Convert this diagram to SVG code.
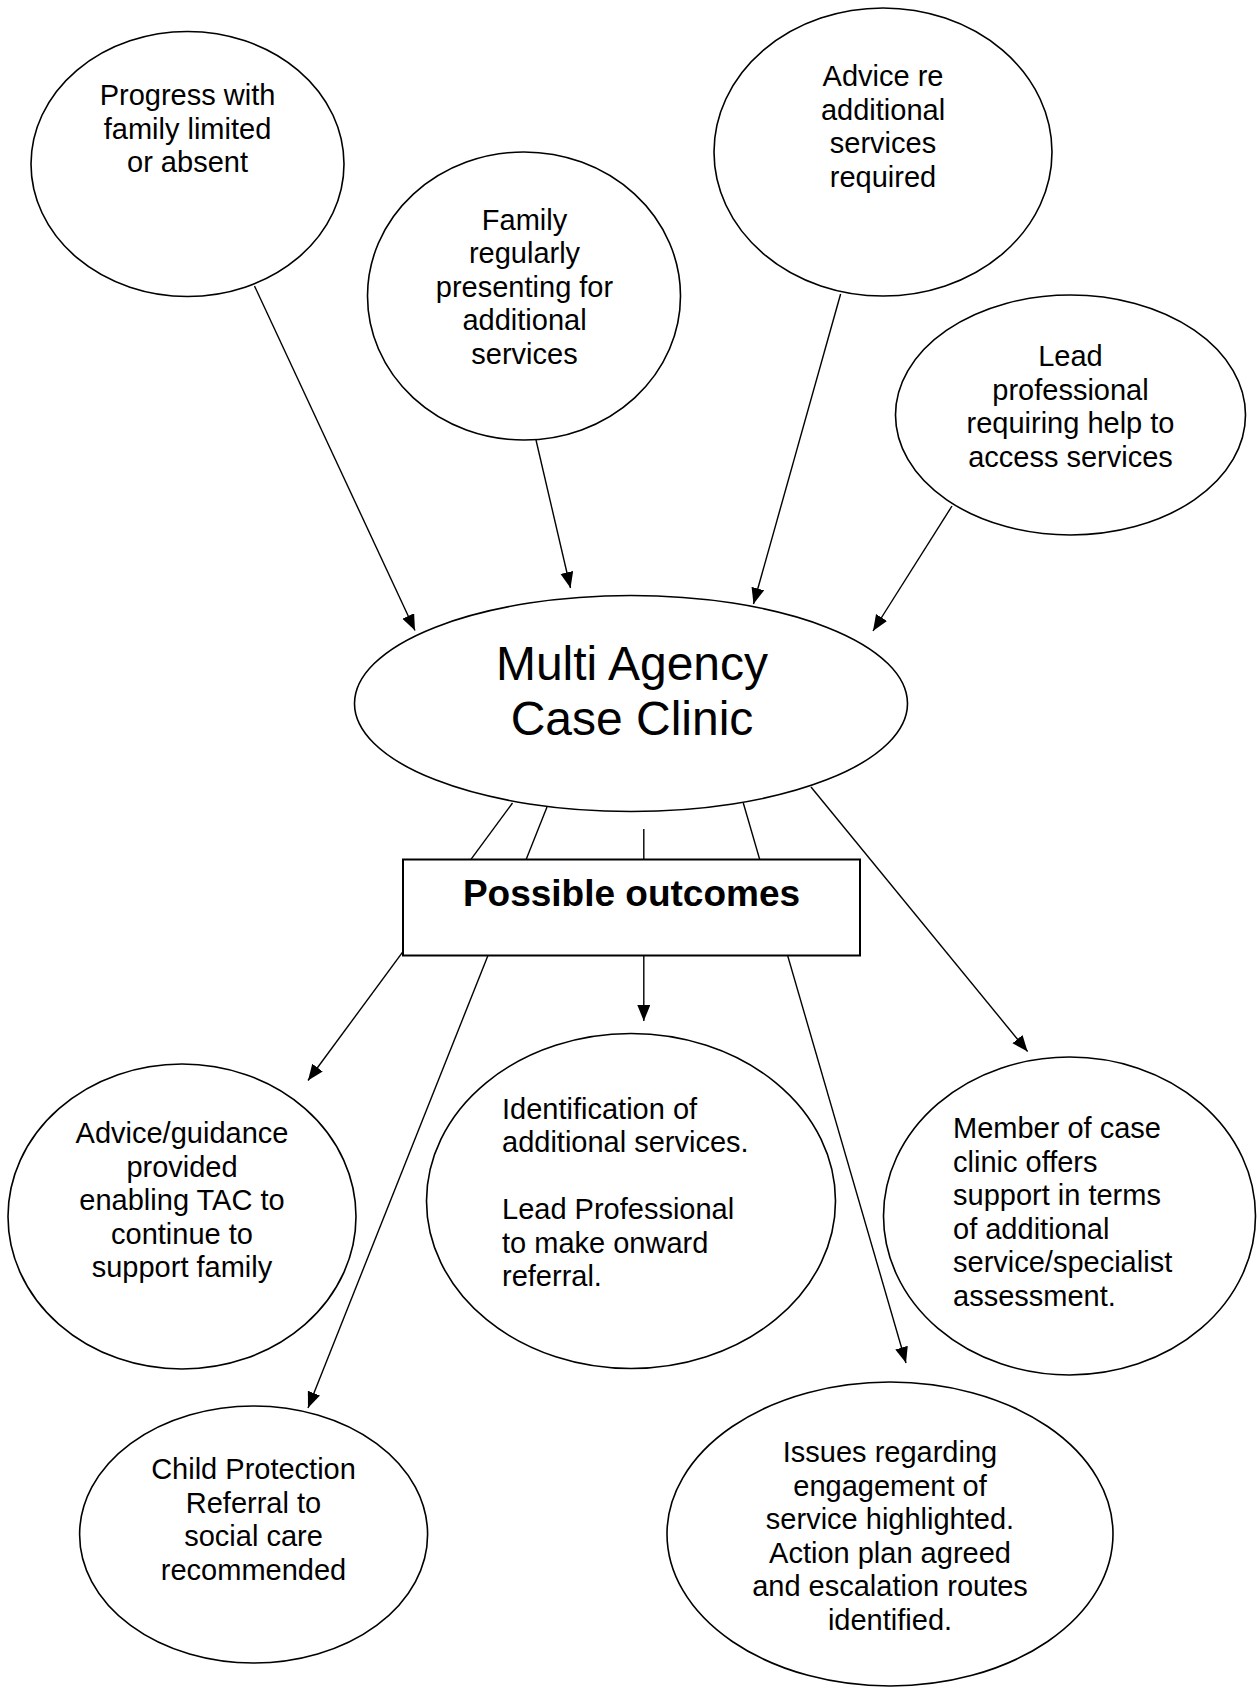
<svg xmlns="http://www.w3.org/2000/svg" width="1258" height="1689" viewBox="0 0 1258 1689">
  <style>
    .node { fill: #ffffff; stroke: #000000; stroke-width: 1.6; }
    .box { fill: #ffffff; stroke: #000000; stroke-width: 2; }
    .lbl { font-family: "Liberation Sans", Arial, sans-serif; font-size: 29px; fill: #000000; }
    .mid { text-anchor: middle; }
    .big { font-family: "Liberation Sans", Arial, sans-serif; font-size: 48px; fill: #000000; text-anchor: middle; }
    .head { font-family: "Liberation Sans", Arial, sans-serif; font-size: 37px; font-weight: bold; fill: #000000; text-anchor: middle; }
    .edge { stroke: #000000; stroke-width: 1.4; fill: none; }
    .arrow { marker-end: url(#tip); }
  </style>
  <defs>
    <marker id="tip" markerUnits="userSpaceOnUse" markerWidth="18" markerHeight="14" refX="16" refY="6.5" orient="auto">
      <path d="M0,0 L16,6.5 L0,13 z" fill="#000000"/>
    </marker>
  </defs>
  <rect width="1258" height="1689" fill="#ffffff"/>

  <!-- connectors (drawn first so the outcomes box sits on top) -->
  <g id="connectors">
    <line class="edge arrow" x1="254.5" y1="286" x2="415" y2="630.5"/>
    <line class="edge arrow" x1="536" y1="440" x2="570.5" y2="588"/>
    <line class="edge arrow" x1="840.6" y1="294" x2="753.5" y2="604"/>
    <line class="edge arrow" x1="952" y1="506" x2="873" y2="631"/>

    <line class="edge arrow" x1="512.5" y1="803" x2="308" y2="1080.5"/>
    <line class="edge arrow" x1="547" y1="807" x2="308" y2="1408"/>
    <line class="edge" x1="643.8" y1="829" x2="643.8" y2="859.5"/>
    <line class="edge arrow" x1="643.8" y1="955" x2="643.8" y2="1021"/>
    <line class="edge arrow" x1="743.3" y1="803" x2="906" y2="1363"/>
    <line class="edge arrow" x1="811" y1="787" x2="1027.6" y2="1051.5"/>
  </g>

  <g id="progress">
    <ellipse class="node" cx="187.5" cy="164" rx="156.5" ry="132.5"/>
    <text class="lbl mid" x="187.5"><tspan x="187.5" y="105">Progress with</tspan><tspan x="187.5" y="138.5">family limited</tspan><tspan x="187.5" y="172">or absent</tspan></text>
  </g>

  <g id="family">
    <ellipse class="node" cx="524" cy="296" rx="156.5" ry="144"/>
    <text class="lbl mid"><tspan x="524.5" y="229.5">Family</tspan><tspan x="524.5" y="263">regularly</tspan><tspan x="524.5" y="296.5">presenting for</tspan><tspan x="524.5" y="330">additional</tspan><tspan x="524.5" y="363.5">services</tspan></text>
  </g>

  <g id="advice-re">
    <ellipse class="node" cx="883" cy="152" rx="169" ry="144"/>
    <text class="lbl mid"><tspan x="883" y="86">Advice re</tspan><tspan x="883" y="119.5">additional</tspan><tspan x="883" y="153">services</tspan><tspan x="883" y="186.5">required</tspan></text>
  </g>

  <g id="lead-professional">
    <ellipse class="node" cx="1070.5" cy="415" rx="175" ry="120"/>
    <text class="lbl mid"><tspan x="1070.5" y="366">Lead</tspan><tspan x="1070.5" y="399.5">professional</tspan><tspan x="1070.5" y="433">requiring help to</tspan><tspan x="1070.5" y="466.5">access services</tspan></text>
  </g>

  <g id="case-clinic">
    <ellipse class="node" cx="631" cy="703.5" rx="276.5" ry="108"/>
    <text class="big"><tspan x="632" y="680">Multi Agency</tspan><tspan x="632" y="735">Case Clinic</tspan></text>
  </g>

  <g id="possible-outcomes">
    <rect class="box" x="403" y="859.5" width="457" height="96"/>
    <text class="head" x="631.5" y="906">Possible outcomes</text>
  </g>

  <g id="advice-guidance">
    <ellipse class="node" cx="182" cy="1216.5" rx="174" ry="152.5"/>
    <text class="lbl mid"><tspan x="182" y="1143">Advice/guidance</tspan><tspan x="182" y="1176.5">provided</tspan><tspan x="182" y="1210">enabling TAC to</tspan><tspan x="182" y="1243.5">continue to</tspan><tspan x="182" y="1277">support family</tspan></text>
  </g>

  <g id="identification">
    <ellipse class="node" cx="631" cy="1201" rx="204.5" ry="167.5"/>
    <text class="lbl"><tspan x="502" y="1118.5">Identification of</tspan><tspan x="502" y="1152">additional services.</tspan><tspan x="502" y="1219">Lead Professional</tspan><tspan x="502" y="1252.5">to make onward</tspan><tspan x="502" y="1286">referral.</tspan></text>
  </g>

  <g id="member-offers">
    <ellipse class="node" cx="1069.5" cy="1216" rx="186" ry="159"/>
    <text class="lbl"><tspan x="953" y="1138">Member of case</tspan><tspan x="953" y="1171.5">clinic offers</tspan><tspan x="953" y="1205">support in terms</tspan><tspan x="953" y="1238.5">of additional</tspan><tspan x="953" y="1272">service/specialist</tspan><tspan x="953" y="1305.5">assessment.</tspan></text>
  </g>

  <g id="child-protection">
    <ellipse class="node" cx="253.6" cy="1534.5" rx="174" ry="128.5"/>
    <text class="lbl mid"><tspan x="253.5" y="1479">Child Protection</tspan><tspan x="253.5" y="1512.5">Referral to</tspan><tspan x="253.5" y="1546">social care</tspan><tspan x="253.5" y="1579.5">recommended</tspan></text>
  </g>

  <g id="engagement-issues">
    <ellipse class="node" cx="890" cy="1534" rx="223" ry="152"/>
    <text class="lbl mid"><tspan x="890" y="1462">Issues regarding</tspan><tspan x="890" y="1495.5">engagement of</tspan><tspan x="890" y="1529">service highlighted.</tspan><tspan x="890" y="1562.5">Action plan agreed</tspan><tspan x="890" y="1596">and escalation routes</tspan><tspan x="890" y="1629.5">identified.</tspan></text>
  </g>
</svg>
